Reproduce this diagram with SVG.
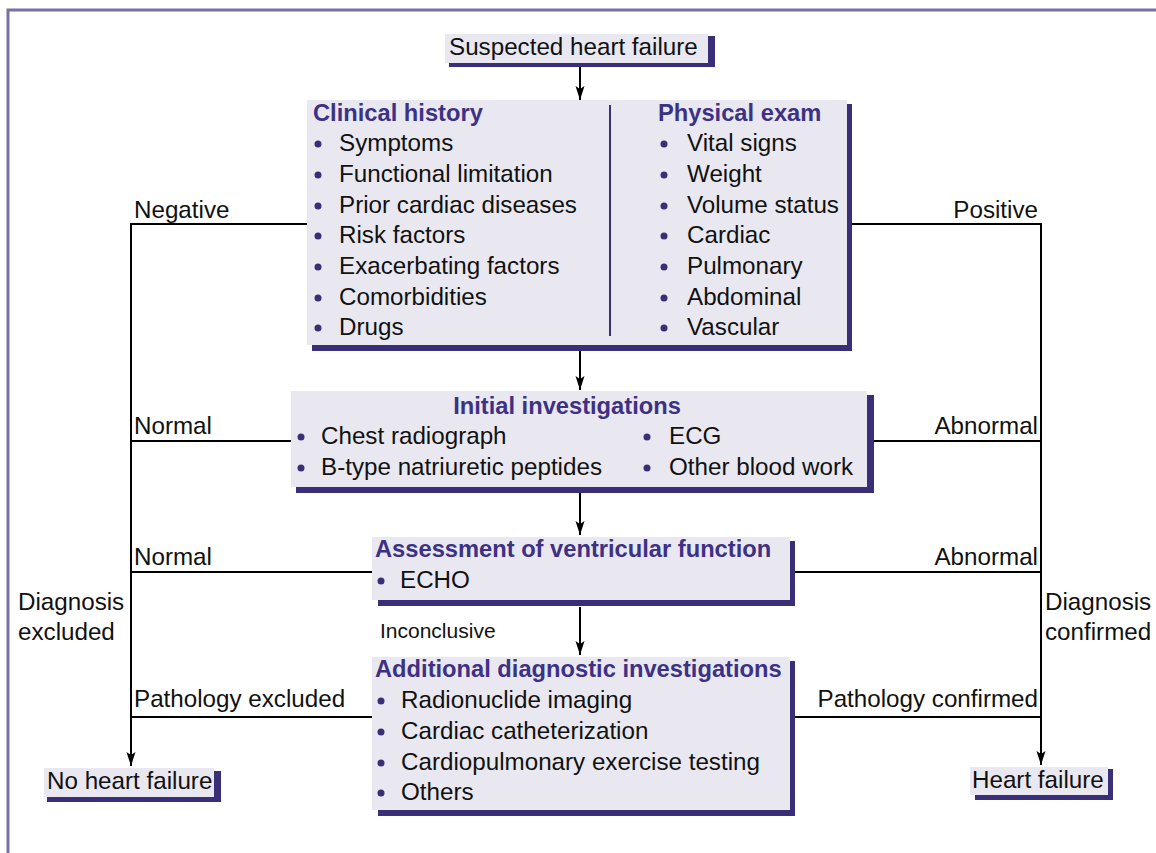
<svg xmlns="http://www.w3.org/2000/svg" width="1156" height="853" viewBox="0 0 1156 853">
<defs>
<style>
.fill{fill:#e9e8f0}
.sh{fill:#3b2e78}
text{font-family:"Liberation Sans",Arial,sans-serif;fill:#111}
.t{font-size:24.2px}
.b{font-size:23.7px;font-weight:bold;fill:#3d3185}
.l{font-size:24.2px}
.s{font-size:21px}
.dot{fill:#3b2e78}
.ln{stroke:#000;stroke-width:2;fill:none}
.frame{stroke:#7a70a6;stroke-width:3;fill:none}
</style>
<marker id="ah" viewBox="0 0 14 10" refX="14" refY="5" markerWidth="14" markerHeight="10" markerUnits="userSpaceOnUse" orient="auto">
<path d="M0,0.5 L14,5 L0,9.5 L3,5 Z" fill="#000"/>
</marker>
</defs>
<path class="frame" d="M8,853 V10 H1156"/>

<g id="connectors">
<line class="ln" x1="580" y1="67" x2="580" y2="100" marker-end="url(#ah)"/>
<line class="ln" x1="580" y1="351" x2="580" y2="390" marker-end="url(#ah)"/>
<line class="ln" x1="580" y1="493" x2="580" y2="535" marker-end="url(#ah)"/>
<line class="ln" x1="580" y1="607" x2="580" y2="655" marker-end="url(#ah)"/>
<polyline class="ln" points="307,224 131,224 131,766" marker-end="url(#ah)"/>
<line class="ln" x1="291" y1="441" x2="131" y2="441"/>
<line class="ln" x1="372" y1="572" x2="131" y2="572"/>
<line class="ln" x1="372" y1="717" x2="131" y2="717"/>
<polyline class="ln" points="847,224 1041,224 1041,765" marker-end="url(#ah)"/>
<line class="ln" x1="867" y1="441" x2="1041" y2="441"/>
<line class="ln" x1="790" y1="572" x2="1041" y2="572"/>
<line class="ln" x1="790" y1="717" x2="1041" y2="717"/>
<text class="l" x="134" y="218">Negative</text>
<text class="l" x="1038" y="218" text-anchor="end">Positive</text>
<text class="l" x="134" y="434">Normal</text>
<text class="l" x="1038" y="434" text-anchor="end">Abnormal</text>
<text class="l" x="134" y="565">Normal</text>
<text class="l" x="1038" y="565" text-anchor="end">Abnormal</text>
<text class="l" x="18" y="610">Diagnosis</text>
<text class="l" x="18" y="640">excluded</text>
<text class="l" x="1045" y="610">Diagnosis</text>
<text class="l" x="1045" y="640">confirmed</text>
<text class="s" x="380" y="638">Inconclusive</text>
<text class="l" x="134" y="707">Pathology excluded</text>
<text class="l" x="1038" y="707" text-anchor="end">Pathology confirmed</text>
</g>

<g id="suspected">
<rect class="sh" x="449" y="36" width="266" height="31"/>
<rect class="fill" x="445" y="34" width="263" height="29"/>
<text class="t" x="449" y="55">Suspected heart failure</text>
</g>

<g id="history-exam">
<rect class="sh" x="312" y="104" width="540" height="247"/>
<rect class="fill" x="307" y="100" width="540" height="245"/>
<line x1="610" y1="105" x2="610" y2="336" stroke="#3b2e78" stroke-width="2"/>
<text class="b" x="313" y="121">Clinical history</text>
<g class="dot">
<circle cx="318" cy="144" r="3.5"/><circle cx="318" cy="175" r="3.5"/><circle cx="318" cy="206" r="3.5"/><circle cx="318" cy="236" r="3.5"/><circle cx="318" cy="267" r="3.5"/><circle cx="318" cy="298" r="3.5"/><circle cx="318" cy="328" r="3.5"/>
</g>
<text class="t" x="339" y="151">Symptoms</text>
<text class="t" x="339" y="182">Functional limitation</text>
<text class="t" x="339" y="213">Prior cardiac diseases</text>
<text class="t" x="339" y="243">Risk factors</text>
<text class="t" x="339" y="274">Exacerbating factors</text>
<text class="t" x="339" y="305">Comorbidities</text>
<text class="t" x="339" y="335">Drugs</text>
<text class="b" x="658" y="121">Physical exam</text>
<g class="dot">
<circle cx="664" cy="144" r="3.5"/><circle cx="664" cy="175" r="3.5"/><circle cx="664" cy="206" r="3.5"/><circle cx="664" cy="236" r="3.5"/><circle cx="664" cy="267" r="3.5"/><circle cx="664" cy="298" r="3.5"/><circle cx="664" cy="328" r="3.5"/>
</g>
<text class="t" x="687" y="151">Vital signs</text>
<text class="t" x="687" y="182">Weight</text>
<text class="t" x="687" y="213">Volume status</text>
<text class="t" x="687" y="243">Cardiac</text>
<text class="t" x="687" y="274">Pulmonary</text>
<text class="t" x="687" y="305">Abdominal</text>
<text class="t" x="687" y="335">Vascular</text>
</g>

<g id="initial">
<rect class="sh" x="296" y="395" width="578" height="98"/>
<rect class="fill" x="291" y="391" width="576" height="96"/>
<text class="b" x="567" y="414" text-anchor="middle">Initial investigations</text>
<g class="dot">
<circle cx="301" cy="437" r="3.5"/><circle cx="301" cy="468" r="3.5"/><circle cx="647" cy="437" r="3.5"/><circle cx="647" cy="468" r="3.5"/>
</g>
<text class="t" x="321" y="444">Chest radiograph</text>
<text class="t" x="321" y="475">B-type natriuretic peptides</text>
<text class="t" x="669" y="444">ECG</text>
<text class="t" x="669" y="475">Other blood work</text>
</g>

<g id="assessment">
<rect class="sh" x="378" y="541" width="417" height="65"/>
<rect class="fill" x="372" y="537" width="418" height="63"/>
<text class="b" x="375" y="557">Assessment of ventricular function</text>
<circle class="dot" cx="381" cy="581" r="3.5"/>
<text class="t" x="400" y="588">ECHO</text>
</g>

<g id="additional">
<rect class="sh" x="378" y="661" width="417" height="155"/>
<rect class="fill" x="372" y="657" width="418" height="153"/>
<text class="b" x="375" y="677">Additional diagnostic investigations</text>
<g class="dot">
<circle cx="381" cy="701" r="3.5"/><circle cx="381" cy="732" r="3.5"/><circle cx="381" cy="763" r="3.5"/><circle cx="381" cy="793" r="3.5"/>
</g>
<text class="t" x="401" y="708">Radionuclide imaging</text>
<text class="t" x="401" y="739">Cardiac catheterization</text>
<text class="t" x="401" y="770">Cardiopulmonary exercise testing</text>
<text class="t" x="401" y="800">Others</text>
</g>

<g id="no-hf">
<rect class="sh" x="47" y="771" width="174" height="31"/>
<rect class="fill" x="44" y="768" width="170" height="29"/>
<text class="t" x="47" y="789">No heart failure</text>
</g>

<g id="hf">
<rect class="sh" x="975" y="769" width="138" height="31"/>
<rect class="fill" x="970" y="767" width="138" height="28"/>
<text class="t" x="972" y="788">Heart failure</text>
</g>
</svg>
